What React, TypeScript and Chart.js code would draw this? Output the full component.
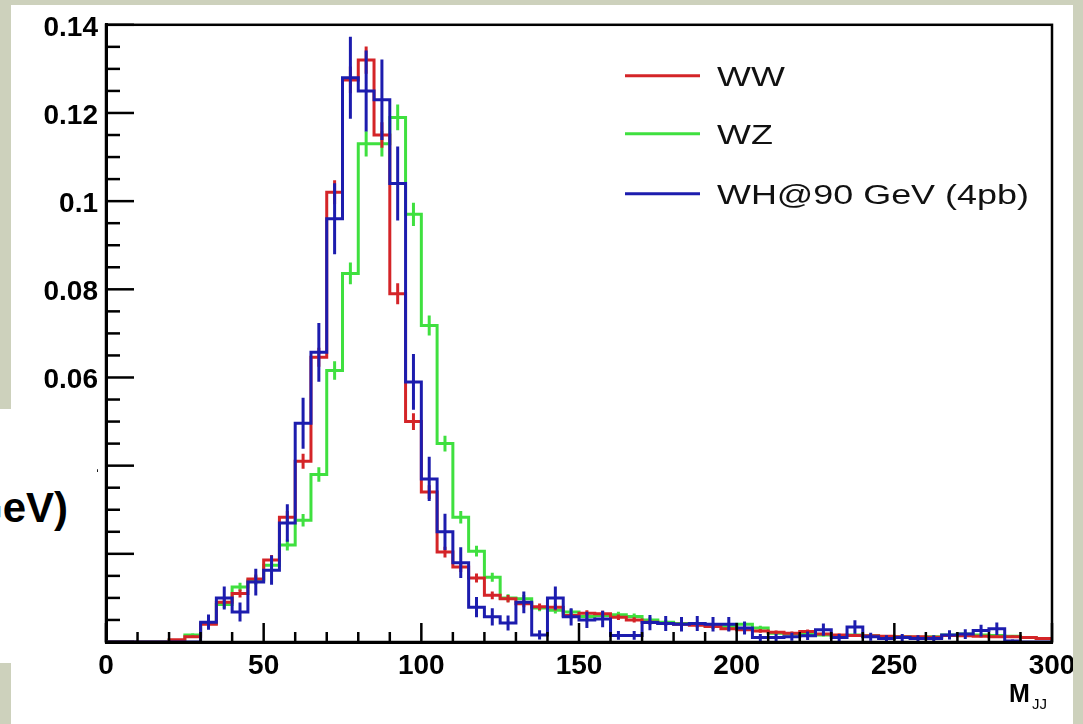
import React, { useEffect, useRef } from "react";
import { Chart, registerables } from "chart.js";

Chart.register(...registerables);

// Histogram bins: lower edges (GeV), width 5 GeV
const binLowEdges = [
  0, 5, 10, 15, 20, 25, 30, 35, 40, 45,
  50, 55, 60, 65, 70, 75, 80, 85, 90, 95,
  100, 105, 110, 115, 120, 125, 130, 135, 140, 145,
  150, 155, 160, 165, 170, 175, 180, 185, 190, 195,
  200, 205, 210, 215, 220, 225, 230, 235, 240, 245,
  250, 255, 260, 265, 270, 275, 280, 285, 290, 295,
];
const binWidth = 5;

const seriesLabels = ["WW", "WZ", "WH@90 GeV (4pb)"];

const wwValues = [
  0, 0, 0, 0, 0.0005, 0.0012, 0.004, 0.009, 0.011, 0.0143,
  0.0186, 0.0283, 0.041, 0.0646, 0.102, 0.1275, 0.132, 0.115, 0.079, 0.05,
  0.034, 0.0204, 0.017, 0.0145, 0.0106, 0.0098, 0.0087, 0.008, 0.0079, 0.006,
  0.0065, 0.0064, 0.0056, 0.005, 0.0045, 0.0042, 0.004, 0.0038, 0.0035, 0.003,
  0.0028, 0.0025, 0.0022, 0.002, 0.0024, 0.0018, 0.0016, 0.0015, 0.0014, 0.0013,
  0.0012, 0.0012, 0.0011, 0.0015, 0.0014, 0.0013, 0.0012, 0.0012, 0.001, 0.0008,
];

const wzValues = [
  0, 0, 0, 0, 0.0003, 0.0016, 0.0042, 0.0085, 0.0125, 0.014,
  0.0174, 0.022, 0.0276, 0.038, 0.0616, 0.0836, 0.113, 0.113, 0.119, 0.097,
  0.0718, 0.045, 0.0283, 0.0206, 0.0147, 0.01, 0.0098, 0.0077, 0.0072, 0.0068,
  0.0058, 0.006, 0.0062, 0.0058, 0.005, 0.0045, 0.0042, 0.004, 0.0036, 0.0035,
  0.004, 0.0032, 0.002, 0.0018, 0.0017, 0.0016, 0.0015, 0.0016, 0.0014, 0.0012,
  0.0012, 0.0011, 0.0012, 0.0016, 0.0018, 0.0016, 0.0015, 0.0013, 0.001, 0.0008,
];

const whValues = [
  0, 0, 0, 0, 0, 0, 0.0045, 0.01, 0.0068, 0.0136,
  0.0163, 0.027, 0.0496, 0.0657, 0.096, 0.128, 0.125, 0.123, 0.104, 0.059,
  0.037, 0.025, 0.018, 0.0079, 0.0057, 0.0043, 0.009, 0.0016, 0.01, 0.0057,
  0.005, 0.0052, 0.0015, 0.0015, 0.0044, 0.0042, 0.004, 0.0042, 0.004, 0.004,
  0.0032, 0.001, 0.001, 0.0012, 0.0014, 0.0028, 0.001, 0.0034, 0.0012, 0.0008,
  0.001, 0.0008, 0.0008, 0.0016, 0.0018, 0.0026, 0.003, 0.0002, 0, 0,
];

// Poisson-like statistical scale per sample (error = scale * sqrt(value))
const statScales = [0.0085, 0.0085, 0.026];

const seriesColors = ["#d42428", "#3fe03f", "#1c1cae"];

const xTickValues = [0, 50, 100, 150, 200, 250, 300];
const yTickValues = [0, 0.02, 0.04, 0.06, 0.08, 0.1, 0.12, 0.14];
const xMinorStep = 10;
const yMinorStep = 0.005;

const FONT = '"Liberation Sans", Arial, Helvetica, sans-serif';

function stepData(values: number[]) {
  const pts = values.map((v, i) => ({ x: binLowEdges[i], y: v }));
  const last = binLowEdges[binLowEdges.length - 1] + binWidth;
  pts.push({ x: last, y: 0 });
  return pts;
}

function errorData(values: number[], scale: number) {
  const pts: { x: number; y: number | null }[] = [];
  values.forEach((v, i) => {
    if (v <= 0) return;
    const c = binLowEdges[i] + binWidth / 2;
    const e = scale * Math.sqrt(v);
    pts.push({ x: c, y: v - e });
    pts.push({ x: c, y: v + e });
    pts.push({ x: c, y: null });
  });
  return pts;
}

const rootStylePlugin = {
  id: "rootStyle",
  afterDraw(chart: any) {
    const { ctx, chartArea: a, scales } = chart;
    const xs = scales.x;
    const ys = scales.y;
    ctx.save();
    ctx.strokeStyle = "#000";
    ctx.lineWidth = 2.5;
    // frame
    ctx.strokeRect(a.left, a.top, a.right - a.left, a.bottom - a.top);
    // y ticks (inward)
    const nY = Math.round(ys.max / yMinorStep);
    for (let k = 0; k <= nY; k++) {
      const py = ys.getPixelForValue(k * yMinorStep);
      const major = k % 4 === 0;
      ctx.beginPath();
      ctx.moveTo(a.left, py);
      ctx.lineTo(a.left + (major ? 28 : 14), py);
      ctx.stroke();
    }
    // x ticks (inward)
    const nX = Math.round(xs.max / xMinorStep);
    for (let k = 0; k <= nX; k++) {
      const v = k * xMinorStep;
      const px = xs.getPixelForValue(v);
      const major = v % 50 === 0;
      ctx.beginPath();
      ctx.moveTo(px, a.bottom);
      ctx.lineTo(px, a.bottom - (major ? 19 : 10));
      ctx.stroke();
    }
    // legend
    const rows = [a.top + 51, a.top + 109, a.top + 169];
    const lx0 = a.left + 519;
    const lx1 = a.left + 594;
    seriesLabels.forEach((lab, i) => {
      ctx.strokeStyle = seriesColors[i];
      ctx.lineWidth = 3;
      ctx.beginPath();
      ctx.moveTo(lx0, rows[i]);
      ctx.lineTo(lx1, rows[i]);
      ctx.stroke();
      ctx.save();
      ctx.translate(lx1 + 17, rows[i] + 10);
      ctx.scale(1.33, 1);
      ctx.fillStyle = "#111";
      ctx.font = `27px ${FONT}`;
      ctx.textAlign = "left";
      ctx.textBaseline = "alphabetic";
      ctx.fillText(lab, 0, 0);
      ctx.restore();
    });
    // axis title M_JJ
    ctx.fillStyle = "#000";
    ctx.font = `bold 25px ${FONT}`;
    ctx.textAlign = "left";
    ctx.textBaseline = "alphabetic";
    ctx.fillText("M", a.right - 43, a.bottom + 60);
    ctx.font = `15px ${FONT}`;
    ctx.fillText("JJ", a.right - 20, a.bottom + 67);
    ctx.restore();
  },
};

export default function App() {
  const canvasRef = useRef<HTMLCanvasElement | null>(null);

  useEffect(() => {
    if (!canvasRef.current) return;
    const allValues = [wwValues, wzValues, whValues];
    const histSets = allValues.map((vals, i) => ({
      label: seriesLabels[i],
      data: stepData(vals),
      borderColor: seriesColors[i],
      backgroundColor: seriesColors[i],
      borderWidth: 3,
      pointRadius: 0,
      fill: false,
      stepped: "before" as const,
      tension: 0,
      order: i === 2 ? 0 : i === 0 ? 2 : 4,
    }));
    const errSets = allValues.map((vals, i) => ({
      label: seriesLabels[i] + " err",
      data: errorData(vals, statScales[i]),
      borderColor: seriesColors[i],
      backgroundColor: seriesColors[i],
      borderWidth: 3,
      pointRadius: 0,
      fill: false,
      spanGaps: false,
      order: i === 2 ? -1 : i === 0 ? 1 : 3,
    }));
    const tickFont = { family: FONT, size: 28, weight: "bold" as const };
    const chart = new Chart(canvasRef.current, {
      type: "line",
      data: { datasets: [...histSets, ...errSets] as any },
      options: {
        animation: false,
        responsive: true,
        maintainAspectRatio: false,
        layout: { padding: { top: 24, right: 31, left: 0, bottom: 0 } },
        plugins: { legend: { display: false }, tooltip: { enabled: false } },
        scales: {
          x: {
            type: "linear",
            min: 0,
            max: 300,
            grid: { display: false, drawTicks: false },
            border: { display: true, color: "#000", width: 3 },
            afterBuildTicks: (s: any) => {
              s.ticks = xTickValues.map((v) => ({ value: v }));
            },
            afterFit: (s: any) => {
              s.height = 82;
            },
            ticks: {
              font: tickFont,
              color: "#000",
              padding: 7,
              maxRotation: 0,
              autoSkip: false,
              callback: (v: any) => String(v),
            },
          },
          y: {
            type: "linear",
            min: 0,
            max: 0.14,
            grid: { display: false, drawTicks: false },
            border: { display: true, color: "#000", width: 3 },
            afterBuildTicks: (s: any) => {
              s.ticks = yTickValues.map((v) => ({ value: v }));
            },
            afterFit: (s: any) => {
              s.width = 106;
            },
            ticks: {
              font: tickFont,
              color: "#000",
              padding: 8,
              labelOffset: 3,
              autoSkip: false,
              callback: (v: any) => String(v),
            },
          },
        },
      },
      plugins: [rootStylePlugin],
    });
    return () => chart.destroy();
  }, []);

  return (
    <div
      style={{
        position: "fixed",
        left: 0,
        top: 0,
        width: 1083,
        height: 724,
        background: "#cdd1bc",
        overflow: "hidden",
      }}
    >
      <div
        style={{
          position: "absolute",
          left: 11,
          top: 5,
          width: 1062,
          height: 719,
          background: "#ffffff",
        }}
      />
      <div style={{ position: "absolute", left: 0, top: 0, width: 1083, height: 724 }}>
        <canvas ref={canvasRef} />
      </div>
      <div
        style={{
          position: "absolute",
          left: 1073,
          top: 0,
          width: 10,
          height: 724,
          background: "#cdd1bc",
        }}
      />
      <div
        style={{
          position: "absolute",
          left: 0,
          top: 409,
          width: 97,
          height: 254,
          background: "#ffffff",
          overflow: "hidden",
        }}
      >
        <div
          style={{
            position: "absolute",
            right: 29,
            top: 78,
            fontFamily: FONT,
            fontWeight: "bold",
            fontSize: 42,
            lineHeight: "42px",
            whiteSpace: "nowrap",
            color: "#000",
          }}
        >
          GeV)
        </div>
      </div>
    </div>
  );
}
